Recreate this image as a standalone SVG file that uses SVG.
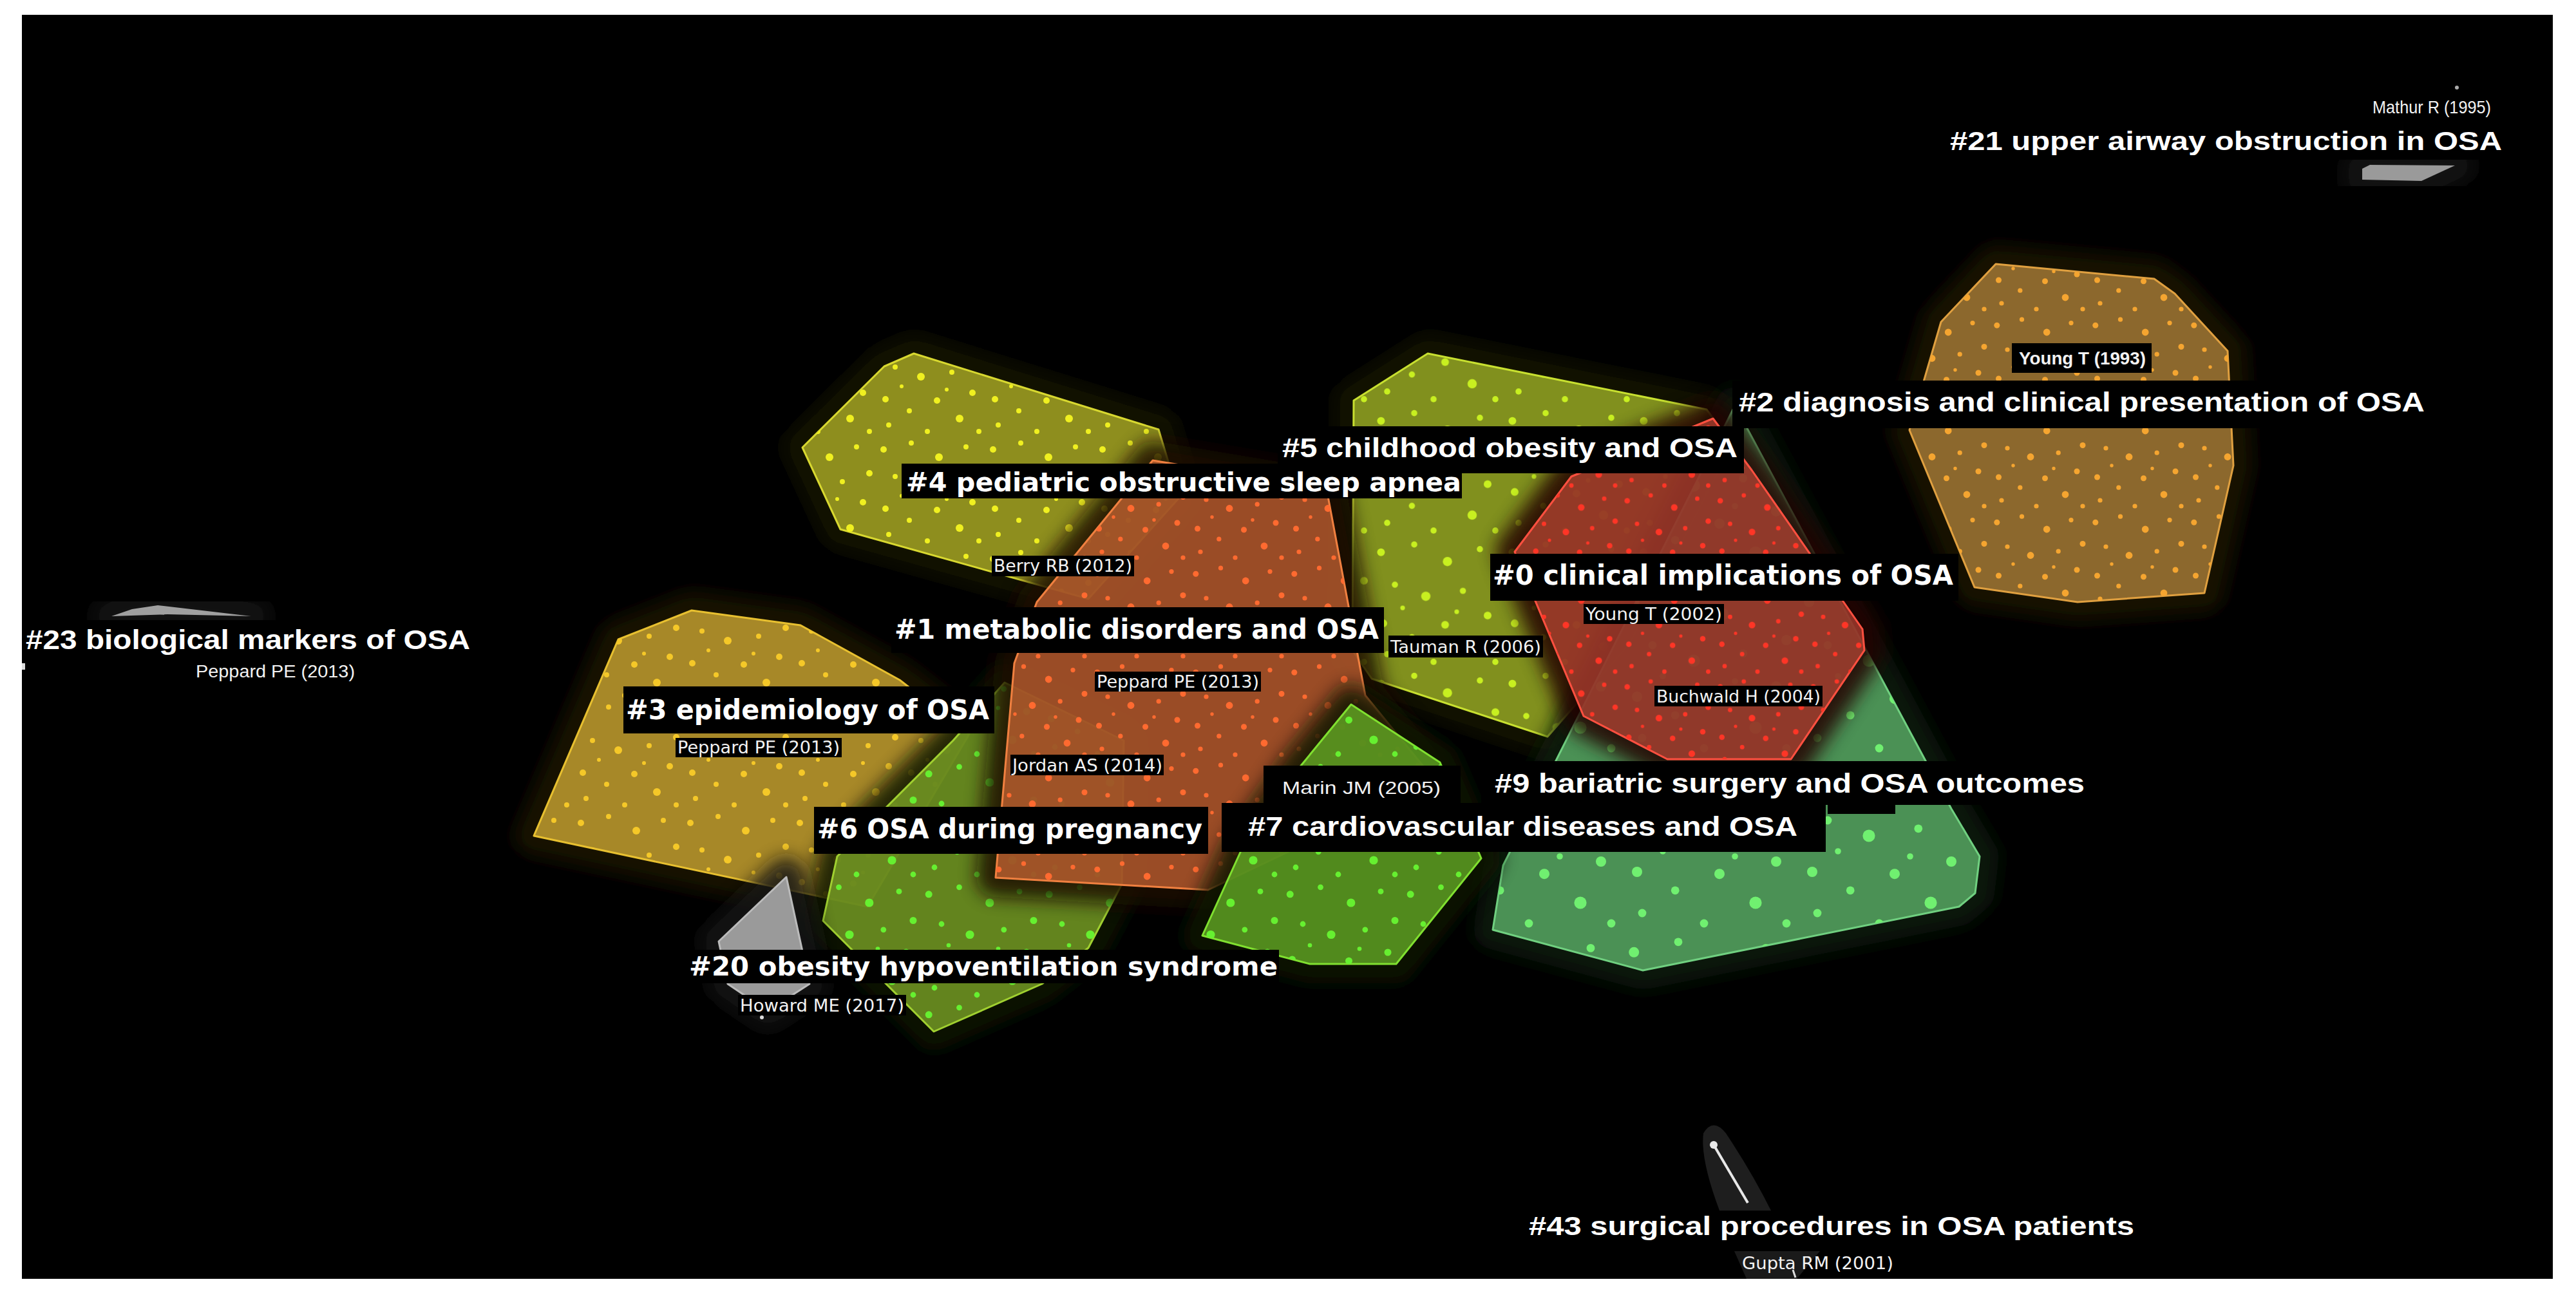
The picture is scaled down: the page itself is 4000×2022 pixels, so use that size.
<svg xmlns="http://www.w3.org/2000/svg" xmlns:xlink="http://www.w3.org/1999/xlink" width="4000" height="2022" viewBox="0 0 4000 2022">
<defs>
<style>
.lb{font-family:"Liberation Sans",Arial,sans-serif;font-weight:bold;fill:#fff}
.ld{font-family:"DejaVu Sans","Liberation Sans",sans-serif;font-weight:bold;fill:#fff}
.au{font-family:"DejaVu Sans","Liberation Sans",sans-serif;fill:#f2f2f2;font-size:26px}
.aul{font-family:"Liberation Sans",Arial,sans-serif;fill:#f2f2f2;font-size:28px}
.box{fill:#000}
.halo{filter:url(#blur);stroke-width:60;stroke-linejoin:round;opacity:0.85}
.poly{stroke-width:3;stroke-linejoin:round}
</style>
<filter id="blur" x="-30%" y="-30%" width="160%" height="160%"><feGaussianBlur stdDeviation="14"/></filter>
<g id="dotset">
<circle cx="12" cy="18" r="5"/><circle cx="55" cy="8" r="4"/><circle cx="98" cy="30" r="6"/><circle cx="140" cy="14" r="4"/>
<circle cx="160" cy="55" r="5"/><circle cx="30" cy="60" r="4"/><circle cx="70" cy="75" r="6"/><circle cx="118" cy="68" r="4"/>
<circle cx="150" cy="100" r="5"/><circle cx="15" cy="110" r="5"/><circle cx="52" cy="128" r="4"/><circle cx="95" cy="112" r="5"/>
<circle cx="130" cy="140" r="6"/><circle cx="160" cy="160" r="4"/><circle cx="80" cy="160" r="4"/><circle cx="40" cy="90" r="3"/>
<circle cx="110" cy="95" r="3"/><circle cx="20" cy="150" r="4"/>
</g>
<pattern id="pY" patternUnits="userSpaceOnUse" width="170" height="170"><use xlink:href="#dotset" fill="#f0f020"/></pattern>
<pattern id="pM" patternUnits="userSpaceOnUse" width="170" height="170" patternTransform="translate(40,70)"><use xlink:href="#dotset" fill="#f5c828"/></pattern>
<pattern id="pYG" patternUnits="userSpaceOnUse" width="170" height="170" patternTransform="translate(90,20) scale(1.2)"><use xlink:href="#dotset" fill="#c8f020"/></pattern>
<pattern id="pO" patternUnits="userSpaceOnUse" width="170" height="170" patternTransform="translate(10,110) scale(0.9)"><use xlink:href="#dotset" fill="#ff6a30"/></pattern>
<pattern id="pR" patternUnits="userSpaceOnUse" width="170" height="170" patternTransform="translate(60,40) scale(0.85)"><use xlink:href="#dotset" fill="#ff3526"/></pattern>
<pattern id="pOr" patternUnits="userSpaceOnUse" width="170" height="170" patternTransform="translate(30,30) scale(0.9)"><use xlink:href="#dotset" fill="#f5a530"/></pattern>
<pattern id="pG" patternUnits="userSpaceOnUse" width="170" height="170" patternTransform="translate(120,60) scale(1.1)"><use xlink:href="#dotset" fill="#66f030"/></pattern>
<pattern id="pTG" patternUnits="userSpaceOnUse" width="170" height="170" patternTransform="translate(70,90) scale(1.6)"><use xlink:href="#dotset" fill="#70f070"/></pattern>
</defs>
<rect width="4000" height="2022" fill="#fff"/>
<rect x="34" y="23" width="3930" height="1963" fill="#000"/>

<g id="cluster-2">
<polygon class="halo" fill="#1c1405" stroke="#1c1405" points="3099,410 3345,433 3377,456 3459,545 3468,723 3423,921 3226,935 3066,912 2965,668 3014,500"/>
<polygon class="poly" fill="#b4853c" fill-opacity="0.75" stroke="#e0a040" points="3099,410 3345,433 3377,456 3459,545 3468,723 3423,921 3226,935 3066,912 2965,668 3014,500"/>
<polygon fill="url(#pOr)" points="3099,410 3345,433 3377,456 3459,545 3468,723 3423,921 3226,935 3066,912 2965,668 3014,500"/>
</g>
<g id="cluster-4">
<polygon class="halo" fill="#181805" stroke="#181805" points="1419,549 1799,667 1831,773 1690,930 1305,822 1246,695 1373,569"/>
<polygon class="poly" fill="#b8b828" fill-opacity="0.75" stroke="#d8d830" points="1419,549 1799,667 1831,773 1690,930 1305,822 1246,695 1373,569"/>
<polygon fill="url(#pY)" points="1419,549 1799,667 1831,773 1690,930 1305,822 1246,695 1373,569"/>
</g>
<g id="cluster-3">
<polygon class="halo" fill="#1a1505" stroke="#1a1505" points="1074,948 1243,971 1397,1056 1505,1140 1347,1408 829,1298 960,993"/>
<polygon class="poly" fill="#d8b035" fill-opacity="0.75" stroke="#e8c030" points="1074,948 1243,971 1397,1056 1505,1140 1347,1408 829,1298 960,993"/>
<polygon fill="url(#pM)" points="1074,948 1243,971 1397,1056 1505,1140 1347,1408 829,1298 960,993"/>
</g>
<g id="cluster-5">
<polygon class="halo" fill="#141905" stroke="#141905" points="2217,549 2650,636 2690,690 2530,1000 2403,1144 2130,1054 2100,1010 2102,622"/>
<polygon class="poly" fill="#a7bb28" fill-opacity="0.75" stroke="#c8e030" points="2217,549 2650,636 2690,690 2530,1000 2403,1144 2130,1054 2100,1010 2102,622"/>
<polygon fill="url(#pYG)" points="2217,549 2650,636 2690,690 2530,1000 2403,1144 2130,1054 2100,1010 2102,622"/>
</g>
<g id="cluster-9">
<polygon class="halo" fill="#081a0a" stroke="#081a0a" points="2694,630 3030,1256 3074,1330 3067,1387 3042,1408 2551,1507 2318,1444 2334,1344"/>
<polygon class="poly" fill="#64c171" fill-opacity="0.72" stroke="#70d080" points="2694,630 3030,1256 3074,1330 3067,1387 3042,1408 2551,1507 2318,1444 2334,1344"/>
<polygon fill="url(#pTG)" points="2694,630 3030,1256 3074,1330 3067,1387 3042,1408 2551,1507 2318,1444 2334,1344"/>
</g>
<g id="cluster-6">
<polygon class="halo" fill="#0f1905" stroke="#0f1905" points="1278,1430 1300,1330 1480,1150 1560,1060 1745,1150 1742,1373 1690,1472 1618,1528 1450,1602"/>
<polygon class="poly" fill="#85b02a" fill-opacity="0.72" stroke="#a0d030" points="1278,1430 1300,1330 1480,1150 1560,1060 1745,1150 1742,1373 1690,1472 1618,1528 1450,1602"/>
<polygon fill="url(#pG)" points="1278,1430 1300,1330 1480,1150 1560,1060 1745,1150 1742,1373 1690,1472 1618,1528 1450,1602"/>
</g>
<g id="cluster-1">
<polygon class="halo" fill="#1e0e05" stroke="#1e0e05" points="1790,715 2060,760 2120,1080 2210,1190 2000,1323 1876,1382 1546,1363 1575,1030 1610,935"/>
<polygon class="poly" fill="#e0703a" fill-opacity="0.65" stroke="#f08040" points="1790,715 2060,760 2120,1080 2210,1190 2000,1323 1876,1382 1546,1363 1575,1030 1610,935"/>
<polygon fill="url(#pO)" points="1790,715 2060,760 2120,1080 2210,1190 2000,1323 1876,1382 1546,1363 1575,1030 1610,935"/>
</g>
<g id="cluster-7">
<polygon class="halo" fill="#0c1905" stroke="#0c1905" points="2098,1094 2236,1184 2300,1333 2168,1497 2034,1497 1867,1453 1929,1317 2016,1194"/>
<polygon class="poly" fill="#6cb828" fill-opacity="0.72" stroke="#80e030" points="2098,1094 2236,1184 2300,1333 2168,1497 2034,1497 1867,1453 1929,1317 2016,1194"/>
<polygon fill="url(#pG)" points="2098,1094 2236,1184 2300,1333 2168,1497 2034,1497 1867,1453 1929,1317 2016,1194"/>
</g>
<g id="cluster-0">
<polygon class="halo" fill="#200604" stroke="#200604" points="2352,857 2440,740 2660,650 2720,730 2892,977 2895,1010 2781,1179 2589,1179 2459,1112"/>
<polygon class="poly" fill="#f05a46" fill-opacity="0.52" stroke="#ff5040" points="2352,857 2440,740 2660,650 2720,730 2892,977 2895,1010 2781,1179 2589,1179 2459,1112"/>
<polygon fill="url(#pR)" points="2352,857 2440,740 2660,650 2720,730 2892,977 2895,1010 2781,1179 2589,1179 2459,1112"/>
</g>
<g id="cluster-20">
<polygon class="halo" fill="#161616" stroke="#161616" points="1221,1362 1257,1528 1192,1570 1130,1528 1116,1462"/>
<polygon class="poly" fill="#9a9a9a" stroke="#bbbbbb" points="1221,1362 1257,1528 1192,1570 1130,1528 1116,1462"/>
<circle cx="1183" cy="1580" r="3" fill="#ddd"/>
</g>
<g id="cluster-21">
<polygon class="halo" fill="#161616" stroke="#161616" points="3668,262 3680,256 3812,257 3760,281 3668,279"/>
<polygon fill="#9a9a9a" points="3668,262 3680,256 3812,257 3760,281 3668,279"/>
<circle cx="3815" cy="136" r="3" fill="#aaa"/>
</g>
<g id="cluster-23">
<polygon class="halo" fill="#161616" stroke="#161616" points="173,957 205,946 245,940 390,957 260,954"/>
<polygon fill="#a0a0a0" points="173,957 205,946 245,940 390,957 260,954"/>
<rect x="34" y="1030" width="5" height="10" fill="#ddd"/>
</g>
<g id="cluster-43">
<path d="M2645,1760 Q2660,1735 2680,1760 Q2720,1820 2750,1880 L2670,1880 Q2640,1800 2645,1760 Z" fill="#1e1e1e"/>
<path d="M2693,1943 L2826,1943 L2790,1986 L2712,1986 Z" fill="#1a1a1a"/>
<line x1="2784" y1="1972" x2="2788" y2="1984" stroke="#ddd" stroke-width="3"/>
</g>
<g id="connectors">
<line x1="2661" y1="1778" x2="2714" y2="1868" stroke="#e8e8e8" stroke-width="4"/>
<circle cx="2661" cy="1778" r="6" fill="#e8e8e8"/>
</g>

<g id="labels">
<text class="lb" x="3028" y="233" font-size="40" textLength="857" lengthAdjust="spacingAndGlyphs">#21 upper airway obstruction in OSA</text>
<text class="aul" x="3684" y="176" font-size="24" textLength="184" lengthAdjust="spacingAndGlyphs">Mathur R (1995)</text>

<rect class="box" x="3124" y="533" width="217" height="46"/>
<text class="aul" x="3135" y="566" font-weight="bold" textLength="197" lengthAdjust="spacingAndGlyphs">Young T (1993)</text>
<rect class="box" x="2690" y="591" width="1085" height="74"/>
<text class="lb" x="2700" y="639" font-size="42" textLength="1065" lengthAdjust="spacingAndGlyphs">#2 diagnosis and clinical presentation of OSA</text>

<rect class="box" x="1984" y="662" width="724" height="73"/>
<text class="lb" x="1991" y="710" font-size="42" textLength="707" lengthAdjust="spacingAndGlyphs">#5 childhood obesity and OSA</text>
<rect class="box" x="1400" y="720" width="870" height="54"/>
<text class="ld" x="1407" y="763" font-size="40" textLength="862" lengthAdjust="spacingAndGlyphs">#4 pediatric obstructive sleep apnea</text>

<rect class="box" x="2314" y="860" width="727" height="73"/>
<text class="ld" x="2318" y="908" font-size="42" textLength="715" lengthAdjust="spacingAndGlyphs">#0 clinical implications of OSA</text>
<rect class="box" x="1540" y="863" width="221" height="32"/>
<text class="au" x="1543" y="888" textLength="215" lengthAdjust="spacingAndGlyphs">Berry RB (2012)</text>
<rect class="box" x="2459" y="938" width="218" height="31"/>
<text class="au" x="2462" y="963" textLength="212" lengthAdjust="spacingAndGlyphs">Young T (2002)</text>

<rect class="box" x="1384" y="943" width="765" height="71"/>
<text class="ld" x="1389" y="992" font-size="42" textLength="752" lengthAdjust="spacingAndGlyphs">#1 metabolic disorders and OSA</text>
<rect class="box" x="2156" y="987" width="240" height="34"/>
<text class="au" x="2159" y="1014" textLength="234" lengthAdjust="spacingAndGlyphs">Tauman R (2006)</text>

<text class="lb" x="40" y="1008" font-size="42" textLength="690" lengthAdjust="spacingAndGlyphs">#23 biological markers of OSA</text>
<text class="aul" x="304" y="1052" font-size="26" textLength="247" lengthAdjust="spacingAndGlyphs">Peppard PE (2013)</text>

<rect class="box" x="1700" y="1043" width="258" height="31"/>
<text class="au" x="1703" y="1068" textLength="252" lengthAdjust="spacingAndGlyphs">Peppard PE (2013)</text>
<rect class="box" x="2569" y="1065" width="261" height="32"/>
<text class="au" x="2572" y="1091" textLength="255" lengthAdjust="spacingAndGlyphs">Buchwald H (2004)</text>

<rect class="box" x="968" y="1066" width="576" height="73"/>
<text class="ld" x="972" y="1117" font-size="42" textLength="564" lengthAdjust="spacingAndGlyphs">#3 epidemiology of OSA</text>
<rect class="box" x="1049" y="1146" width="258" height="30"/>
<text class="au" x="1052" y="1170" textLength="252" lengthAdjust="spacingAndGlyphs">Peppard PE (2013)</text>
<rect class="box" x="1569" y="1172" width="238" height="32"/>
<text class="au" x="1572" y="1198" textLength="233" lengthAdjust="spacingAndGlyphs">Jordan AS (2014)</text>

<rect class="box" x="1962" y="1189" width="306" height="61"/>
<text class="aul" x="1991" y="1233" font-size="30" textLength="246" lengthAdjust="spacingAndGlyphs">Marin JM (2005)</text>
<rect class="box" x="2300" y="1182" width="945" height="68"/>
<rect class="box" x="2838" y="1249" width="105" height="15"/>
<text class="lb" x="2321" y="1231" font-size="42" textLength="916" lengthAdjust="spacingAndGlyphs">#9 bariatric surgery and OSA outcomes</text>

<rect class="box" x="1897" y="1247" width="938" height="76"/>
<text class="lb" x="1938" y="1298" font-size="42" textLength="853" lengthAdjust="spacingAndGlyphs">#7 cardiovascular diseases and OSA</text>
<rect class="box" x="1264" y="1253" width="612" height="73"/>
<text class="ld" x="1269" y="1302" font-size="42" textLength="598" lengthAdjust="spacingAndGlyphs">#6 OSA during pregnancy</text>

<rect class="box" x="1066" y="1475" width="920" height="52"/>
<text class="ld" x="1070" y="1515" font-size="40" textLength="914" lengthAdjust="spacingAndGlyphs">#20 obesity hypoventilation syndrome</text>
<rect class="box" x="1146" y="1545" width="261" height="32"/>
<text class="au" x="1149" y="1571" textLength="255" lengthAdjust="spacingAndGlyphs">Howard ME (2017)</text>

<text class="lb" x="2374" y="1918" font-size="40" textLength="940" lengthAdjust="spacingAndGlyphs">#43 surgical procedures in OSA patients</text>
<text class="au" x="2705" y="1971" textLength="235" lengthAdjust="spacingAndGlyphs">Gupta RM (2001)</text>
</g>
</svg>
